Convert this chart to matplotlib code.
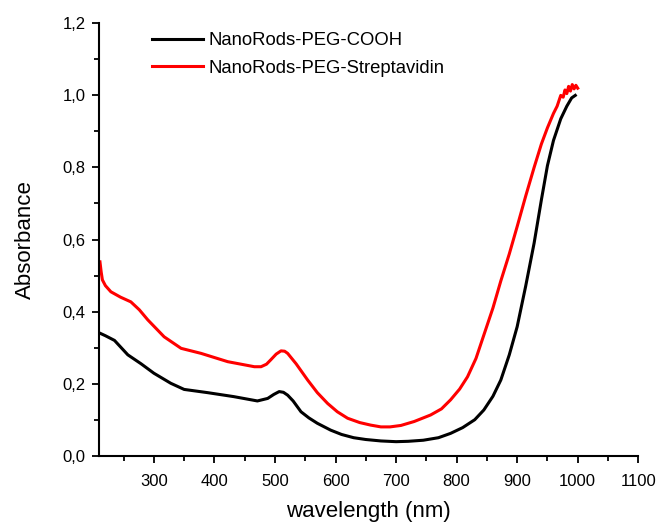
import matplotlib.pyplot as plt
from matplotlib.ticker import MultipleLocator, FuncFormatter

plt.rcParams['font.family'] = ['Liberation Sans', 'DejaVu Sans']

# NanoRods-PEG-COOH (black)
wl_cooh = [211, 220, 235, 257, 279, 300, 328, 350, 389, 432, 471, 488, 498, 507,
           514, 521, 530, 543, 556, 570, 592, 610, 630, 650, 675, 700, 720, 745,
           770, 790, 810, 830, 845, 860, 873, 887, 900, 914, 928, 940, 950, 960,
           972, 982, 990, 996]
abs_cooh = [0.34, 0.333, 0.32, 0.28, 0.255, 0.229, 0.201, 0.184, 0.175, 0.164,
            0.152, 0.159, 0.17, 0.178, 0.176, 0.168, 0.152, 0.122, 0.105, 0.09,
            0.071, 0.059, 0.05, 0.045, 0.041, 0.039, 0.04, 0.043, 0.05, 0.062,
            0.078, 0.1, 0.127, 0.165, 0.21, 0.28, 0.358, 0.47, 0.59, 0.71, 0.805,
            0.875, 0.935, 0.97, 0.993, 1.0]

# NanoRods-PEG-Streptavidin (red)
wl_strep = [211, 213, 215, 220, 229, 245, 262, 276, 290, 317, 345, 378, 422, 466,
            477, 486, 493, 502, 510, 516, 521, 535, 554, 570, 587, 603, 620, 640,
            658, 675, 690, 708, 730, 757, 775, 790, 805, 818, 832, 845, 860, 873,
            887, 900, 914, 928, 940, 950, 960, 966, 972, 976, 979, 982, 985, 988,
            991, 994, 997, 1000]
abs_strep = [0.538, 0.51, 0.488, 0.472, 0.455, 0.44, 0.427, 0.405, 0.377, 0.33,
             0.298, 0.284, 0.261, 0.247, 0.247, 0.254, 0.266, 0.282, 0.291, 0.29,
             0.284, 0.255, 0.21, 0.175, 0.145, 0.122, 0.104, 0.092, 0.085, 0.08,
             0.08, 0.084, 0.095, 0.113, 0.13, 0.155, 0.185, 0.219, 0.27, 0.335,
             0.41, 0.485, 0.56, 0.636, 0.72, 0.8, 0.865, 0.91, 0.95, 0.97, 1.0,
             0.995, 1.015, 1.005, 1.025, 1.012, 1.03, 1.018, 1.028, 1.02]

fig = plt.figure(figsize=(6.58, 5.24), dpi=100)
ax = fig.add_axes([0.151, 0.1303, 0.819, 0.8252])

ax.plot(wl_cooh, abs_cooh, color='black', lw=2.2, label='NanoRods-PEG-COOH')
ax.plot(wl_strep, abs_strep, color='#ff0000', lw=2.2, label='NanoRods-PEG-Streptavidin')

ax.set_xlim(210, 1100)
ax.set_ylim(0, 1.2)
ax.xaxis.set_major_locator(MultipleLocator(100))
ax.xaxis.set_minor_locator(MultipleLocator(50))
ax.yaxis.set_major_locator(MultipleLocator(0.2))
ax.yaxis.set_minor_locator(MultipleLocator(0.1))
ax.yaxis.set_major_formatter(FuncFormatter(lambda v, p: f"{v:.1f}".replace('.', ',')))
ax.xaxis.set_major_formatter(FuncFormatter(lambda v, p: f"{v:.0f}"))

for side in ['top', 'right']:
    ax.spines[side].set_visible(False)
for side in ['left', 'bottom']:
    ax.spines[side].set_linewidth(1.5)
ax.tick_params(which='major', direction='out', length=5, width=1.3, labelsize=12, pad=5)
ax.tick_params(axis='x', which='major', pad=8)
ax.tick_params(which='minor', direction='out', length=3.5, width=1.3)

ax.set_xlabel('wavelength (nm)', fontsize=16, labelpad=9)
ax.set_ylabel('Absorbance', fontsize=16, labelpad=19)

ax.legend(loc='upper left', bbox_to_anchor=(0.2305, 0.938), bbox_transform=fig.transFigure,
          frameon=False, fontsize=13.3, handlelength=2.8, handletextpad=0.27,
          labelspacing=0.55, borderaxespad=0, borderpad=0)

fig.savefig('out.png', dpi=100)
